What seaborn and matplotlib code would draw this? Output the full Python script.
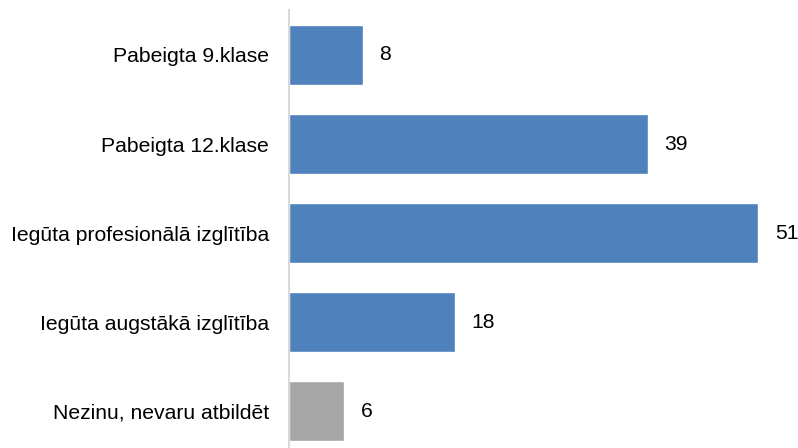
import matplotlib
matplotlib.use("Agg")
import matplotlib.pyplot as plt
import seaborn as sns
import pandas as pd

categories = [
    "Pabeigta 9.klase",
    "Pabeigta 12.klase",
    "Iegūta profesionālā izglītība",
    "Iegūta augstākā izglītība",
    "Nezinu, nevaru atbildēt",
]
values = [8, 39, 51, 18, 6]
bar_colors = ["#4F81BD", "#4F81BD", "#4F81BD", "#4F81BD", "#A6A6A6"]

sns.set_style("white")
plt.rcParams["font.family"] = ["Liberation Sans", "DejaVu Sans"]

df = pd.DataFrame({"category": categories, "value": values})

fig = plt.figure(figsize=(7.98, 4.48), dpi=100)
ax = fig.add_axes([0.3622, 0.0, 0.634, 0.9777])

sns.barplot(
    data=df, x="value", y="category", hue="category",
    palette=bar_colors, orient="h", width=0.673,
    legend=False, ax=ax, saturation=1,
)

for patch, v in zip(ax.patches, values):
    ax.annotate(
        f"{v}",
        xy=(patch.get_width(), patch.get_y() + patch.get_height() / 2),
        xytext=(12, 0), textcoords="offset points",
        ha="left", va="center", fontsize=15.2, color="#000000",
    )

ax.set_xlim(0, 55)
ax.set_ylim(4.41, -0.505)
ax.set_xlabel("")
ax.set_ylabel("")
ax.set_xticks([])
ax.tick_params(axis="y", length=0, pad=14.4, labelsize=15.2, colors="#000000")

for side in ["top", "right", "bottom"]:
    ax.spines[side].set_visible(False)
ax.spines["left"].set_color("#D9D9D9")
ax.spines["left"].set_linewidth(1.5)

fig.savefig("out.png", dpi=100)
